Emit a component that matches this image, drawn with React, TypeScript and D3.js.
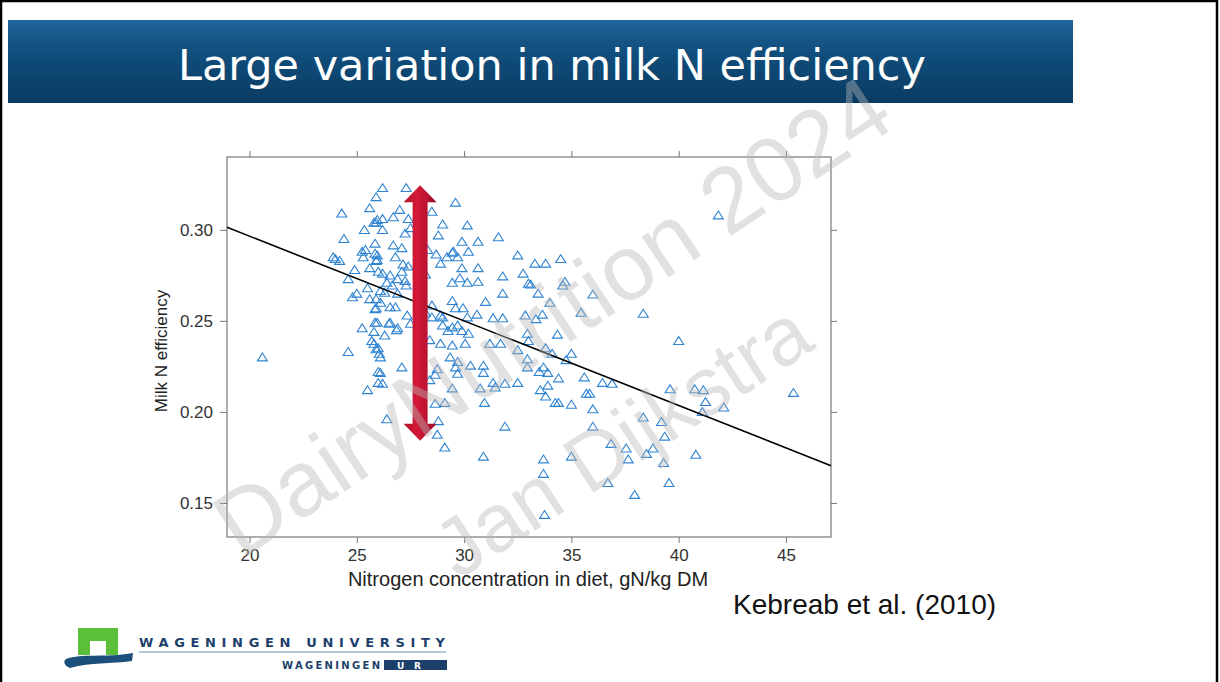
import React, { useEffect, useRef } from "react";
import * as d3 from "d3";

// dietary N concentration (g N / kg DM) and milk N efficiency
const nitrogen = [
  20.6, 24.3, 24.4, 24.0, 23.9, 24.2, 24.9, 24.6, 25.3, 25.25, 25.4, 25.35, 25.6, 25.8, 25.9, 25.9, 25.85, 25.85, 25.9, 25.6,
  24.8, 25.0, 25.5, 25.6, 25.9, 25.9, 25.25, 25.85, 25.8, 25.7, 25.8, 24.6, 25.5, 26.0, 26.0, 26.0,
  26.2, 27.3, 27.0, 26.7, 26.2, 25.95, 27.4, 28.5, 26.2, 27.25, 27.5, 29.0, 28.8, 26.7, 27.1, 25.95, 26.8, 25.95,
  27.15, 27.4, 28.3, 28.7, 28.9, 29.2, 29.45, 26.0, 26.2, 26.55, 27.1, 26.9, 27.25, 28.2, 26.4, 26.65, 27.3, 26.1,
  26.3, 26.9, 26.1, 25.85, 26.55, 26.8, 29.45, 29.45, 28.5, 28.9, 28.5, 28.2, 27.35, 25.95, 26.55,
  29.6, 30.15, 31.6, 29.9, 30.65, 29.5, 30.2, 29.7, 32.5, 29.9, 30.65, 31.8, 32.75, 30.15, 30.65, 33.0, 29.8, 31.8,
  31.0, 29.6, 29.95, 30.6, 30.15, 29.0, 31.35, 31.8, 32.85, 29.0, 29.45, 29.7, 29.25, 29.9, 30.2, 27.5, 26.5, 26.9,
  26.3, 28.4, 28.9, 29.45, 30.05, 31.2, 31.7, 32.95, 33.0,
  29.35, 29.7, 29.6, 29.7, 28.75, 28.65, 30.3, 30.9, 30.9, 32.5, 32.95, 32.95, 26.1, 26.1, 26.2, 27.1, 28.4, 29.45,
  31.35, 31.9, 32.5, 30.75, 31.45, 30.95, 28.65, 29.1, 26.4, 28.8, 28.75, 29.1, 31.9, 30.9,
  33.8, 34.1, 35.0, 33.7, 33.5, 33.9, 34.75, 34.4, 35.6, 36.45, 36.9, 33.9, 33.55, 33.8, 35.7, 35.85, 34.25, 34.4,
  35.0, 36.0, 36.0, 38.35, 39.2, 39.35, 36.85, 37.55, 38.8, 38.5, 37.65, 39.3, 33.7, 35.0, 33.7, 36.7, 39.55, 37.95,
  33.75, 39.6,
  34.5, 33.3, 33.8, 33.1, 34.7, 34.6, 33.45, 36.0, 34.0, 35.45, 38.35, 33.65, 33.35, 34.35, 40.0, 41.85,
  40.75, 41.15, 41.25, 41.1, 42.1, 45.35, 40.8, 26.85, 26.05, 25.9,
];
const efficiency = [
  0.230, 0.309, 0.295, 0.284, 0.285, 0.283, 0.278, 0.273, 0.285, 0.288, 0.289, 0.300, 0.312, 0.304, 0.304, 0.318, 0.2925, 0.287, 0.283, 0.279,
  0.263, 0.265, 0.268, 0.262, 0.262, 0.257, 0.246, 0.249, 0.244, 0.239, 0.2375, 0.233, 0.212, 0.235, 0.222, 0.216,
  0.323, 0.323, 0.311, 0.307, 0.306, 0.3055, 0.306, 0.310, 0.300, 0.298, 0.301, 0.303, 0.297, 0.2915, 0.290, 0.286, 0.285, 0.2835,
  0.281, 0.280, 0.289, 0.2865, 0.2815, 0.285, 0.2875, 0.277, 0.276, 0.275, 0.277, 0.273, 0.272, 0.2755, 0.271, 0.2695, 0.2695, 0.2665,
  0.2655, 0.265, 0.260, 0.2565, 0.2575, 0.2575, 0.271, 0.261, 0.2585, 0.253, 0.252, 0.2545, 0.253, 0.249, 0.249,
  0.315, 0.3025, 0.296, 0.2935, 0.2935, 0.288, 0.288, 0.285, 0.286, 0.279, 0.279, 0.2745, 0.276, 0.271, 0.2715, 0.2705, 0.2735, 0.265,
  0.2605, 0.257, 0.257, 0.2535, 0.252, 0.252, 0.2515, 0.2515, 0.253, 0.2475, 0.2465, 0.2475, 0.2445, 0.2445, 0.243, 0.2485, 0.2485, 0.246,
  0.242, 0.2395, 0.2375, 0.2365, 0.2375, 0.2375, 0.2375, 0.243, 0.239,
  0.230, 0.2275, 0.2245, 0.221, 0.2235, 0.2205, 0.2255, 0.2255, 0.2215, 0.234, 0.229, 0.2245, 0.230, 0.2215, 0.2155, 0.2245, 0.2175, 0.213,
  0.216, 0.2155, 0.216, 0.213, 0.2135, 0.205, 0.2045, 0.205, 0.196, 0.195, 0.1875, 0.1805, 0.192, 0.1755,
  0.235, 0.232, 0.232, 0.2245, 0.222, 0.2215, 0.2285, 0.2185, 0.219, 0.216, 0.2155, 0.2145, 0.212, 0.2085, 0.210, 0.210, 0.205, 0.205,
  0.204, 0.2015, 0.192, 0.197, 0.1945, 0.1865, 0.1825, 0.180, 0.180, 0.177, 0.174, 0.172, 0.174, 0.1755, 0.166, 0.161, 0.161, 0.1545,
  0.1435, 0.2125,
  0.284, 0.2815, 0.2815, 0.270, 0.2715, 0.2695, 0.265, 0.2645, 0.260, 0.2545, 0.254, 0.2535, 0.251, 0.2425, 0.239, 0.308,
  0.2125, 0.212, 0.2055, 0.200, 0.2025, 0.2105, 0.1765, 0.245, 0.232, 0.2345,
];
const xTicks = [20, 25, 30, 35, 40, 45];
const yTicks = [0.15, 0.2, 0.25, 0.3];

// fitted line: efficiency = intercept + slope * N
const fitIntercept = 0.3895;
const fitSlope = -0.00465;

// red range arrow, in data units
const arrowN = 27.95;
const arrowSpan = [0.3245, 0.1842];

const W = 1220;
const H = 682;

export default function App() {
  const ref = useRef<SVGSVGElement>(null);

  useEffect(() => {
    drawSlide();
  }, []);

  function drawSlide() {
    const svg = d3.select(ref.current);
    svg.selectAll("*").remove();

    const defs = svg.append("defs");
    const bannerGrad = defs.append("linearGradient").attr("id", "banner").attr("x1", 0).attr("x2", 0).attr("y1", 0).attr("y2", 1);
    bannerGrad.append("stop").attr("offset", "0%").attr("stop-color", "#20649a");
    bannerGrad.append("stop").attr("offset", "35%").attr("stop-color", "#11507f");
    bannerGrad.append("stop").attr("offset", "100%").attr("stop-color", "#0a3b62");
    const arrowGrad = defs.append("linearGradient").attr("id", "arrowFill").attr("x1", 0).attr("x2", 1).attr("y1", 0).attr("y2", 0);
    arrowGrad.append("stop").attr("offset", "0%").attr("stop-color", "#b0102a");
    arrowGrad.append("stop").attr("offset", "40%").attr("stop-color", "#d31a38");
    arrowGrad.append("stop").attr("offset", "75%").attr("stop-color", "#b81230");
    arrowGrad.append("stop").attr("offset", "100%").attr("stop-color", "#8c0b20");

    svg.append("rect").attr("width", W).attr("height", H).attr("fill", "#fff");

    // title banner
    svg.append("rect").attr("x", 8).attr("y", 20).attr("width", 1065).attr("height", 83).attr("fill", "url(#banner)");
    svg.append("text")
      .attr("x", 178).attr("y", 80)
      .attr("fill", "#fff")
      .style("font-family", "DejaVu Sans, Verdana, sans-serif")
      .style("font-size", "43px")
      .text("Large variation in milk N efficiency");

    const margin = { left: 227, right: 831, top: 157, bottom: 537 };
    const x = d3.scaleLinear().domain([18.95, 47.1]).range([margin.left, margin.right]);
    const y = d3.scaleLinear().domain([0.1313, 0.340]).range([margin.bottom, margin.top]);

    const axisFont = "Liberation Sans, Arial, sans-serif";
    const frameCol = "#777";

    const bottomAxis = d3.axisBottom(x).tickValues(xTicks).tickSize(6).tickSizeOuter(0).tickPadding(6).tickFormat(d3.format("d"));
    const gx = svg.append("g").attr("transform", `translate(0,${margin.bottom})`).call(bottomAxis);
    const topAxis = d3.axisTop(x).tickValues(xTicks).tickSize(6).tickSizeOuter(0).tickFormat(() => "");
    const gxt = svg.append("g").attr("transform", `translate(0,${margin.top})`).call(topAxis);
    const leftAxis = d3.axisLeft(y).tickValues(yTicks).tickSize(7).tickSizeOuter(0).tickPadding(7).tickFormat(d3.format(".2f"));
    const gy = svg.append("g").attr("transform", `translate(${margin.left},0)`).call(leftAxis);
    const rightAxis = d3.axisRight(y).tickValues(yTicks).tickSize(6).tickSizeOuter(0).tickFormat(() => "");
    const gyr = svg.append("g").attr("transform", `translate(${margin.right},0)`).call(rightAxis);

    [gx, gxt, gy, gyr].forEach(g => {
      g.select(".domain").remove();
      g.selectAll("line").attr("stroke", frameCol);
      g.selectAll("text").attr("fill", "#333").style("font-family", axisFont).style("font-size", "17px");
    });

    svg.append("rect")
      .attr("x", margin.left).attr("y", margin.top)
      .attr("width", margin.right - margin.left).attr("height", margin.bottom - margin.top)
      .attr("fill", "none").attr("stroke", frameCol).attr("stroke-width", 1.2);

    // points
    const tri = "M0,-4.3L5,3.6L-5,3.6Z";
    svg.append("g")
      .selectAll("path")
      .data(nitrogen.map((n, i) => [n, efficiency[i]]))
      .enter()
      .append("path")
      .attr("d", tri)
      .attr("transform", d => `translate(${x(d[0])},${y(d[1])})`)
      .attr("fill", "none")
      .attr("stroke", "#2f84d2")
      .attr("stroke-width", 1.1);

    // regression line
    const [n0, n1] = x.domain();
    svg.append("line")
      .attr("x1", x(n0)).attr("y1", y(fitIntercept + fitSlope * n0))
      .attr("x2", x(n1)).attr("y2", y(fitIntercept + fitSlope * n1))
      .attr("stroke", "#000").attr("stroke-width", 1.6);

    // red double arrow
    const cx = x(arrowN);
    const yt = y(arrowSpan[0]);
    const yb = y(arrowSpan[1]);
    const sh = 7.5, hh = 16.5, hl = 17;
    const arrowPath = d3.path();
    arrowPath.moveTo(cx, yt);
    arrowPath.lineTo(cx + hh, yt + hl);
    arrowPath.lineTo(cx + sh, yt + hl);
    arrowPath.lineTo(cx + sh, yb - hl);
    arrowPath.lineTo(cx + hh, yb - hl);
    arrowPath.lineTo(cx, yb);
    arrowPath.lineTo(cx - hh, yb - hl);
    arrowPath.lineTo(cx - sh, yb - hl);
    arrowPath.lineTo(cx - sh, yt + hl);
    arrowPath.lineTo(cx - hh, yt + hl);
    arrowPath.closePath();
    svg.append("path").attr("d", arrowPath.toString()).attr("fill", "url(#arrowFill)");

    // axis titles
    svg.append("text")
      .attr("transform", `translate(167,351) rotate(-90)`)
      .attr("text-anchor", "middle")
      .attr("fill", "#222")
      .style("font-family", axisFont).style("font-size", "17px")
      .text("Milk N efficiency");
    svg.append("text")
      .attr("x", 528).attr("y", 586)
      .attr("text-anchor", "middle")
      .attr("fill", "#222")
      .style("font-family", axisFont).style("font-size", "20px")
      .text("Nitrogen concentration in diet, gN/kg DM");

    svg.append("text")
      .attr("x", 733).attr("y", 614)
      .attr("fill", "#111")
      .style("font-family", axisFont).style("font-size", "28px")
      .text("Kebreab et al. (2010)");

    // watermark
    const wm = svg.append("g").style("font-family", axisFont).attr("fill", "#b8b8b8").attr("opacity", 0.42);
    wm.append("text")
      .attr("transform", "translate(552,316) rotate(-33.5)")
      .attr("text-anchor", "middle").attr("dominant-baseline", "central")
      .style("font-size", "92px")
      .text("DairyNutrition 2024");
    wm.append("text")
      .attr("transform", "translate(622,440) rotate(-33)")
      .attr("text-anchor", "middle").attr("dominant-baseline", "central")
      .style("font-size", "82px")
      .text("Jan Dijkstra");

    // university logo
    const logo = svg.append("g");
    logo.append("path")
      .attr("d", "M78,628H118V655H106V641H90V655H78Z")
      .attr("fill", "#5cbf3a");
    logo.append("path")
      .attr("d", "M66,659C82,653 104,658 133,653L132,661C110,664 92,662 70,668C64,666 63,661 66,659Z")
      .attr("fill", "#1d4f7c");
    logo.append("text")
      .attr("x", 139).attr("y", 647)
      .attr("textLength", 306).attr("lengthAdjust", "spacing")
      .attr("fill", "#1d3f6c")
      .style("font-family", "DejaVu Sans, Verdana, sans-serif")
      .style("font-size", "13px").style("font-weight", "bold")
      .text("WAGENINGEN UNIVERSITY");
    logo.append("line")
      .attr("x1", 139).attr("x2", 446).attr("y1", 652).attr("y2", 652)
      .attr("stroke", "#6f8fb3").attr("stroke-width", 1);
    logo.append("text")
      .attr("x", 282).attr("y", 669)
      .attr("textLength", 98).attr("lengthAdjust", "spacing")
      .attr("fill", "#1d3f6c")
      .style("font-family", "DejaVu Sans, Verdana, sans-serif")
      .style("font-size", "10px").style("font-weight", "bold")
      .text("WAGENINGEN");
    logo.append("rect").attr("x", 384).attr("y", 660).attr("width", 63).attr("height", 10).attr("fill", "#1d3f6c");
    logo.append("text")
      .attr("x", 397).attr("y", 669)
      .attr("textLength", 24).attr("lengthAdjust", "spacing")
      .attr("fill", "#fff")
      .style("font-family", "DejaVu Sans, Verdana, sans-serif")
      .style("font-size", "9px").style("font-weight", "bold")
      .text("UR");

    // slide frame
    svg.append("rect")
      .attr("x", 1).attr("y", 1).attr("width", W - 4).attr("height", H + 4)
      .attr("fill", "none").attr("stroke", "#000").attr("stroke-width", 2.5);
  }

  return <svg ref={ref} width={W} height={H} style={{ position: "absolute", left: 0, top: 0 }} />;
}
